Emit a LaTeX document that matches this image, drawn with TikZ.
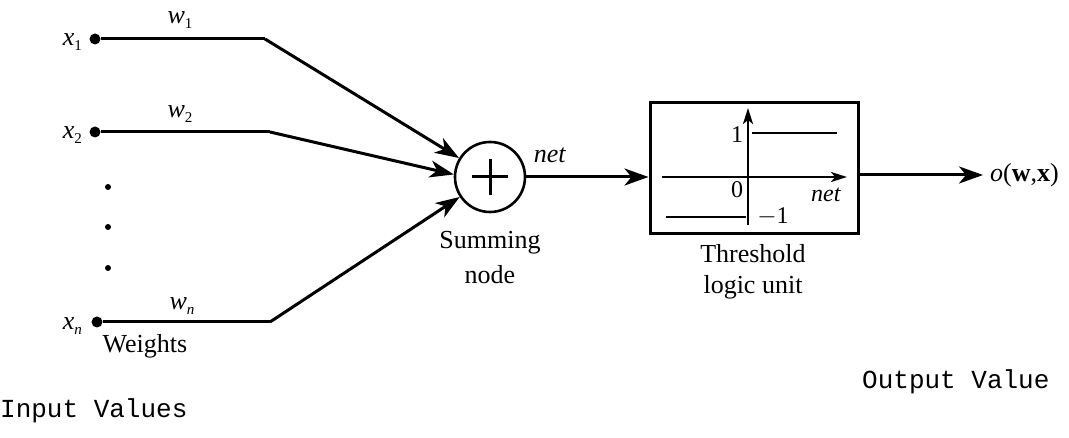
\documentclass[tikz,border=0pt]{standalone}
\usepackage{fontspec}
\setmainfont{Liberation Serif}
\setmonofont{Liberation Mono}
\usetikzlibrary{arrows.meta,calc}
\newcommand{\lbl}[2]{\textit{#1}\raisebox{-0.35ex}{\fontsize{15}{15}\selectfont #2}}
\begin{document}
\begin{tikzpicture}[x=1pt,y=-1pt,
  wire/.style={line width=3pt},
  arr/.style={wire,-{Stealth[length=24pt,width=17pt,inset=7pt]}},
  thin arr/.style={line width=2.4pt,-{Stealth[length=16pt,width=10pt,inset=4pt]}},
  indot/.style={circle,fill,inner sep=0pt,minimum size=11pt},
  vdot/.style={circle,fill,inner sep=0pt,minimum size=6pt},
  txt/.style={font=\fontsize{26}{30}\selectfont,inner sep=0pt},
  small/.style={font=\fontsize{24}{28}\selectfont,inner sep=0pt},
  mono/.style={font=\fontsize{26}{30}\selectfont\ttfamily,inner sep=0pt}]
\useasboundingbox (0,0) rectangle (1069,438);

% inputs
\node[indot] (i1) at (95,39) {};
\node[indot] (i2) at (95,132) {};
\node[indot] (in) at (97,322) {};
\node[vdot] (d1) at (108,187) {};
\node[vdot] (d2) at (108,227) {};
\node[vdot] (d3) at (108,268) {};
\node[txt,anchor=east] (x1) at (82,42) {\lbl{x}{1}};
\node[txt,anchor=east] (x2) at (82,135) {\lbl{x}{2}};
\node[txt,anchor=east] (xn) at (82,326) {\lbl{x}{\textit{n}}};

% weight bends
\coordinate (k1) at (265,39);
\coordinate (k2) at (270,132);
\coordinate (kn) at (270,322);
\node[txt] (w1) at (180,20) {\lbl{w}{1}};
\node[txt] (w2) at (180,114) {\lbl{w}{2}};
\node[txt] (wn) at (182,306) {\lbl{w}{\textit{n}}};
\node[txt] (weights) at (145,346) {Weights};

% summing node
\node[circle,draw,line width=2.6pt,minimum size=70pt,inner sep=0pt] (sum) at (490,177) {};
\draw[line width=3pt] ($(sum.center)+(-18,0)$) -- ++(36,0);
\draw[line width=3pt] ($(sum.center)+(0,-18)$) -- ++(0,36);
\node[txt] (sum1) at (490,243) {Summing};
\node[txt] (sum2) at (490,275) {node};

\draw[wire] (i1) -- (k1);
\draw[wire] (i2) -- (k2);
\draw[wire] (in) -- (kn);
\draw[arr] (k1) -- (sum);
\draw[arr] (k2) -- (sum.176);
\draw[arr] (kn) -- (sum);

% threshold logic unit
\node[draw,line width=3pt,minimum width=208pt,minimum height=131pt,inner sep=0pt] (tlu) at (754,168.5) {};
\draw[arr] (sum.east) -- (sum.east -| tlu.west);
\node[txt] (netin) at (550,155) {\textit{net}};
\coordinate (ax0) at (662,177);
\coordinate (ax1) at (847,177);
\coordinate (ay0) at (748,225);
\coordinate (ay1) at (748,108);
\draw[thin arr] (ax0) -- (ax1);
\draw[thin arr] (ay0) -- (ay1);
\coordinate (up0) at (752,133);
\coordinate (up1) at (837,133);
\coordinate (lo0) at (666,217);
\coordinate (lo1) at (746,217);
\draw[line width=2.4pt] (up0) -- (up1);
\draw[line width=2.4pt] (lo0) -- (lo1);
\node[small] (one) at (737,135) {1};
\node[small] (zero) at (737,190) {0};
\node[small] (mone) at (773,217) {$-$1};
\node[small] (netax) at (826,195) {\textit{net}};
\node[txt] (th1) at (753,254) {Threshold};
\node[txt] (th2) at (753,287) {logic unit};

% output
\coordinate (oend) at (983,175);
\draw[arr] (tlu.east |- oend) -- (oend);
\node[txt,anchor=west] (out) at (990,175) {\textit{o}(\textbf{w},\textbf{x})};

% captions
\node[mono,anchor=west] (inv) at (0,411) {Input Values};
\node[mono,anchor=west] (outv) at (862,382) {Output Value};
\end{tikzpicture}
\end{document}
